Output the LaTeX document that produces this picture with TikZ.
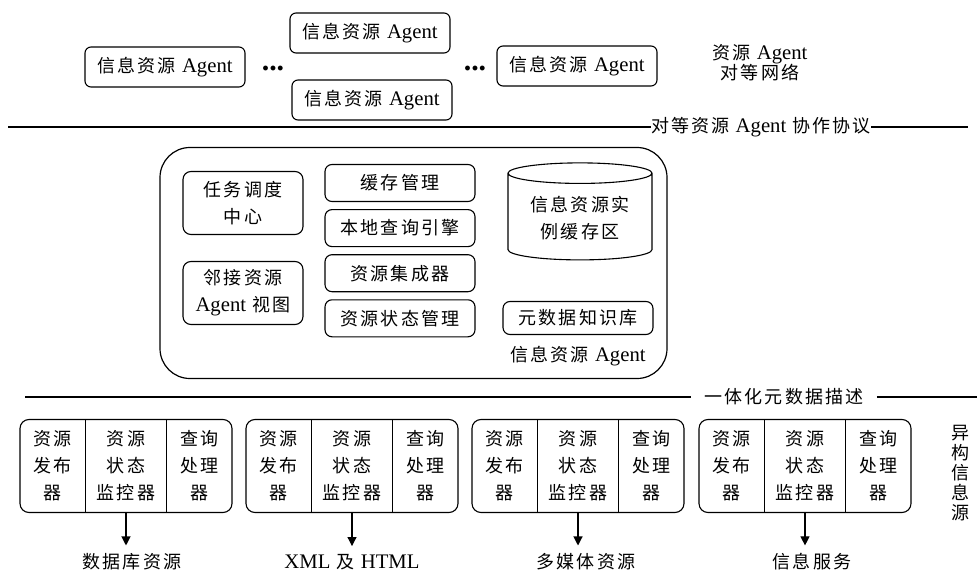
\documentclass[tikz,border=0pt]{standalone}
\usepackage{fontspec}
\setmainfont[LetterSpace=12]{Noto Sans CJK SC}
\newfontfamily\lat[Scale=1.15]{Liberation Serif}
\usetikzlibrary{shapes.geometric, arrows.meta, positioning}

\begin{document}
\begin{tikzpicture}[
			x=1pt, y=-1pt,
			node distance=7pt,
			every node/.style={font=\fontsize{18}{20}\selectfont, align=center, inner sep=2pt},
			agent/.style={draw, rounded corners=6pt, line width=1.1pt, minimum width=160pt, minimum height=40pt},
			module/.style={draw, rounded corners=7pt, line width=1.1pt, minimum width=150pt, minimum height=37pt},
			centre/.style={draw, rounded corners=8pt, line width=1.1pt, minimum width=120pt, minimum height=63pt, font=\fontsize{18}{27}\selectfont},
			cache/.style={draw, cylinder, shape border rotate=90, aspect=0.2, line width=1.1pt, minimum width=144pt, minimum height=97pt, font=\fontsize{18}{27}\selectfont},
			source/.style={draw, rounded corners=9pt, line width=1.1pt, minimum width=212pt, minimum height=93pt},
			monitor/.style={draw, line width=1.1pt, minimum width=81pt, minimum height=93pt, font=\fontsize{18}{27}\selectfont},
			part/.style={minimum width=65pt, font=\fontsize{18}{27}\selectfont},
			more/.style={font=\lat\bfseries\fontsize{26}{26}\selectfont},
			layer/.style={line width=1.2pt},
			arrow/.style={-{Triangle[length=9pt, width=9pt]}, line width=1.1pt, shorten >=6pt}
			]
			\useasboundingbox (0,0) rectangle (979,572);
			
			% Agent network
			\node (agentl) [agent] at (165,67) {信息资源 {\lat Agent}};
			\node (dotsl) [more] at (273,69) {...};
			\node (agentt) [agent] at (370,33) {信息资源 {\lat Agent}};
			\node (agentb) [agent] at (372,100) {信息资源 {\lat Agent}};
			\node (dotsr) [more] at (475,69) {...};
			\node (agentr) [agent] at (577,66) {信息资源 {\lat Agent}};
			\node (p2p) at (760,63) {资源 {\lat Agent}\\对等网络};
			
			% Protocol layer
			\coordinate (protl) at (8,127);
			\coordinate (protr) at (968,127);
			\node (protocol) [inner sep=0pt] at (761,127) {对等资源 {\lat Agent} 协作协议};
			\draw [layer] (protl) -- (protocol.west);
			\draw [layer] (protocol.east) -- (protr);
			
			% Information resource agent
			\node (frame) [draw, rounded corners=30pt, line width=1.2pt, minimum width=507pt, minimum height=231pt] at (413.5,263) {};
			\node (sched) [centre] at (243,203) {任务调度\\中心};
			\node (neigh) [centre] at (243,293) {邻接资源\\{\lat Agent} 视图};
			\node (cachemgr) [module] at (400,183) {缓存管理};
			\node (query) [module, below=of cachemgr] {本地查询引擎};
			\node (integ) [module, below=of query] {资源集成器};
			\node (state) [module, below=of integ] {资源状态管理};
			\node (instcache) [cache] at (580,218) {信息资源实\\例缓存区};
			\node (meta) [module, minimum height=33pt] at (578,318) {元数据知识库};
			\node (agentlbl) at (578,356) {信息资源 {\lat Agent}};
			
			% Metadata layer
			\coordinate (descl) at (25,397);
			\coordinate (descr) at (977,397);
			\node (desc) [inner xsep=13pt] at (784,397) {一体化元数据描述};
			\draw [layer] (descl) -- (desc.west);
			\draw [layer] (desc.east) -- (descr);
			
			% Heterogeneous sources
			\node (src1) [source] at (126,466) {};
			\node (mon1) [monitor] at (src1.center) {资源\\状态\\监控器};
			\node (pub1) [part, left=0pt of mon1] {资源\\发布\\器};
			\node (qry1) [part, right=0pt of mon1] {查询\\处理\\器};
			\node (res1) at (132,562) {数据库资源};
			
			\node (src2) [source] at (352,466) {};
			\node (mon2) [monitor] at (src2.center) {资源\\状态\\监控器};
			\node (pub2) [part, left=0pt of mon2] {资源\\发布\\器};
			\node (qry2) [part, right=0pt of mon2] {查询\\处理\\器};
			\node (res2) at (352,562) {{\lat XML} 及 {\lat HTML}};
			
			\node (src3) [source] at (578,466) {};
			\node (mon3) [monitor] at (src3.center) {资源\\状态\\监控器};
			\node (pub3) [part, left=0pt of mon3] {资源\\发布\\器};
			\node (qry3) [part, right=0pt of mon3] {查询\\处理\\器};
			\node (res3) at (586,562) {多媒体资源};
			
			\node (src4) [source] at (805,466) {};
			\node (mon4) [monitor] at (src4.center) {资源\\状态\\监控器};
			\node (pub4) [part, left=0pt of mon4] {资源\\发布\\器};
			\node (qry4) [part, right=0pt of mon4] {查询\\处理\\器};
			\node (res4) at (812,562) {信息服务};
			
			\node (hetero) at (960,473) {异\\构\\信\\息\\源};
			
			% Connections
			\draw [arrow] (mon1.south) -- (mon1.south |- res1.north);
			\draw [arrow] (mon2.south) -- (mon2.south |- res2.north);
			\draw [arrow] (mon3.south) -- (mon3.south |- res3.north);
			\draw [arrow] (mon4.south) -- (mon4.south |- res4.north);
			
		\end{tikzpicture}
\end{document}
